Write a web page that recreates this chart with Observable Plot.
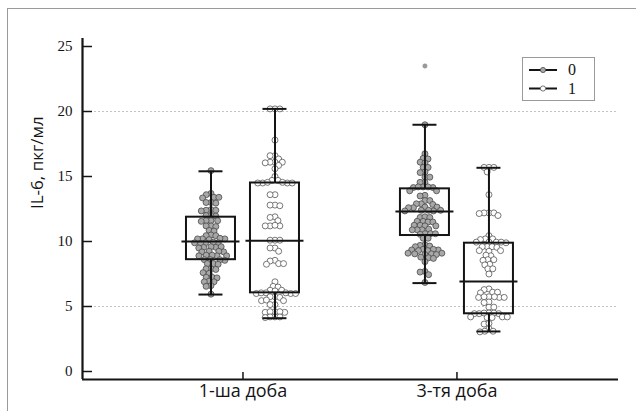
<!DOCTYPE html>
<html><head><meta charset="utf-8">
<script src="https://cdn.jsdelivr.net/npm/d3@7"></script>
<script src="https://cdn.jsdelivr.net/npm/@observablehq/plot@0.6"></script>
<style>
html,body{margin:0;padding:0;background:#fff;overflow:hidden;}
#wrap{position:relative;width:636px;height:411px;overflow:hidden;}
#frame{position:absolute;left:7px;top:8px;width:700px;height:500px;border-left:1.5px solid #9a9a9a;border-top:1.5px solid #9a9a9a;pointer-events:none;}
#legend{position:absolute;left:522px;top:57px;width:73px;height:44px;border:1px solid #9a9a9a;background:#fff;box-sizing:border-box;}
svg{display:block}
</style></head><body><div id="wrap"><div id="frame"></div><div id="legend"></div></div>
<script>
// ---------- data ----------
const days = ["1-ша доба", "3-тя доба"];
const series = ["0", "1"];
const yTicks = [0, 5, 10, 15, 20, 25];
const gridValues = [5, 20];
const yLabel = "IL-6, пкг/мл";

const day1Series0 = [15.45, 13.7, 13.6, 13.4, 13.4, 13.35, 13.0, 13.0, 12.95,
  12.45, 12.4, 12.4, 12.35, 12.0, 12.0, 11.95, 11.6, 11.6, 11.55, 11.6,
  11.2, 11.2, 11.15, 10.85, 10.8, 10.5, 10.45, 10.45,
  10.2, 10.2, 10.15, 10.2, 10.25, 9.9, 9.9, 9.85, 9.9, 9.95,
  9.55, 9.6, 9.55, 9.5, 9.6, 9.25, 9.2, 9.2, 9.25,
  8.9, 8.95, 8.9, 8.9, 8.95, 8.6, 8.6, 8.55, 8.6, 8.3, 8.25, 8.3,
  7.9, 7.9, 7.85, 7.6, 7.55, 7.25, 7.2, 7.25, 6.9, 6.95, 6.9, 6.6, 6.55, 5.95];
const day1Series1 = [20.2, 20.2, 20.2, 17.8, 16.6, 16.6, 16.35, 16.1, 16.1, 16.05, 16.1,
  15.85, 15.6, 15.0, 14.7, 14.7, 14.5, 14.5, 14.5, 14.55, 14.5, 14.55,
  13.6, 13.6, 12.8, 12.75, 12.8, 11.9, 11.85, 11.6, 11.2, 11.2, 11.25, 11.2,
  10.1, 10.1, 10.1, 9.5, 9.5, 9.25, 8.55, 8.5, 8.3, 8.25, 8.3,
  6.9, 6.55, 6.5, 6.25, 6.2, 6.25, 6.05, 6.0, 6.05, 6.0, 6.05, 6.0,
  5.75, 5.7, 5.75, 5.45, 5.45, 5.5, 5.15, 5.15,
  4.6, 4.55, 4.6, 4.55, 4.6, 4.2, 4.2, 4.15, 4.2];
const day3Series0 = [18.98, 16.75, 16.4, 16.35, 16.1, 16.05, 15.7, 15.7, 15.35, 15.3,
  14.95, 14.95, 14.55, 14.55, 14.2, 14.15, 14.2, 14.15, 14.2, 13.9, 13.9,
  13.55, 13.5, 13.15, 13.15, 12.9, 12.9, 12.85, 12.65, 12.6, 12.65, 12.6,
  12.4, 12.35, 12.4, 12.4, 12.35, 11.85, 11.9, 11.85, 11.55, 11.5, 11.55, 11.5,
  11.25, 11.2, 11.2, 11.25, 10.9, 10.95, 10.9, 10.9, 10.6, 10.55, 10.6, 10.6,
  10.25, 10.25, 9.75, 9.7, 9.65, 9.6, 9.4, 9.35, 9.3, 9.35, 9.3, 9.4,
  9.1, 9.05, 9.0, 9.05, 9.1, 9.0, 8.8, 8.75, 8.7, 8.45, 7.7, 7.65, 7.45, 6.85];
const day3Series1 = [15.7, 15.7, 15.7, 15.35, 13.6, 12.2, 12.2, 12.15, 12.2, 12.0,
  10.45, 10.2, 10.2, 10.15, 9.95, 9.95, 9.9, 9.95, 9.95, 9.6, 9.6, 9.55, 9.6,
  9.3, 9.3, 9.25, 8.9, 8.95, 8.6, 8.55, 8.6, 8.25, 8.2, 7.9, 7.9, 7.5,
  6.35, 6.3, 6.1, 6.05, 6.1, 5.75, 5.7, 5.7, 5.75, 5.7, 5.75, 5.35, 5.3,
  4.95, 4.95, 4.5, 4.45, 4.5, 4.45, 4.5, 4.45, 4.2, 4.15, 4.2, 4.15, 4.2,
  3.65, 3.7, 3.3, 3.1, 3.1, 3.05];

// box summaries (day index, series index)
const boxDay = [0, 0, 1, 1];
const boxSeries = [0, 1, 0, 1];
const whiskerLow = [5.92, 4.1, 6.8, 3.08];
const q1 = [8.6, 6.05, 10.46, 4.44];
const median = [10.0, 10.05, 12.3, 6.92];
const q3 = [11.87, 14.5, 14.05, 9.87];
const whiskerHigh = [15.4, 20.2, 18.98, 15.67];

const outlierDay = [1];
const outlierSeries = [0];
const outlierValue = [23.5];

// ---------- layout & style ----------
const W = 636, H = 411;
const M = {top: 38, right: 18, bottom: 32, left: 82};
const xDomain = [-0.75, 1.755];
const yDomain = [-0.615, 25.615];
const pxX = (W - M.left - M.right) / (xDomain[1] - xDomain[0]);
const pxY = (H - M.top - M.bottom) / (yDomain[1] - yDomain[0]);
const seriesOffsetPx = 32, boxHalfPx = 24.5, medianHalfPx = 29, capHalfPx = 12;
const dotR = 3, dotPad = -1.1;
const seriesFill = ["#a8a8a8", "#ffffff"];
const seriesStroke = ["#4a4a4a", "#555555"];
const ink = "#141414";
const serif = "'Liberation Serif', 'Times New Roman', serif";
const sans = "'Open Sans', 'Noto Sans', sans-serif";

const center = (d, s) => d + (s === 0 ? -1 : 1) * seriesOffsetPx / pxX;

// beeswarm offsets computed in pixel space
function swarm(values) {
  const dd = 2 * dotR + dotPad;
  const placed = [];
  const out = new Array(values.length);
  const order = d3.range(values.length).sort((a, b) => values[b] - values[a]);
  for (const i of order) {
    const y = values[i] * pxY;
    const cands = [0];
    for (const p of placed) {
      const dy = Math.abs(p.y - y);
      if (dy < dd) { const dx = Math.sqrt(dd * dd - dy * dy); cands.push(p.x - dx, p.x + dx); }
    }
    cands.sort((a, b) => Math.abs(a) - Math.abs(b) || a - b);
    for (const c of cands) {
      if (placed.every(p => (p.x - c) ** 2 + (p.y - y) ** 2 >= dd * dd - 1e-6)) {
        out[i] = c; placed.push({x: c, y}); break;
      }
    }
  }
  return out;
}

const groups = [
  {day: 0, s: 0, values: day1Series0},
  {day: 0, s: 1, values: day1Series1},
  {day: 1, s: 0, values: day3Series0},
  {day: 1, s: 1, values: day3Series1}
];
const points = [];
for (const g of groups) {
  const off = swarm(g.values);
  g.values.forEach((v, i) => points.push({x: center(g.day, g.s) + off[i] / pxX, y: v, s: g.s}));
}
const boxes = boxDay.map((d, i) => ({c: center(d, boxSeries[i]), lo: whiskerLow[i], q1: q1[i], med: median[i], q3: q3[i], hi: whiskerHigh[i]}));
const outliers = outlierValue.map((v, i) => ({x: center(outlierDay[i], outlierSeries[i]), y: v, s: outlierSeries[i]}));

const chart = Plot.plot({
  width: W, height: H,
  marginTop: M.top, marginRight: M.right, marginBottom: M.bottom, marginLeft: M.left,
  x: {type: "linear", domain: xDomain, axis: null},
  y: {domain: yDomain, axis: null},
  style: {background: "transparent", overflow: "visible"},
  marks: [
    Plot.ruleY(gridValues, {x1: xDomain[0], x2: xDomain[1], stroke: "#c4c4c4", strokeWidth: 1, strokeDasharray: "2,2"}),
    Plot.dot(points, {x: "x", y: "y", r: dotR, fill: d => seriesFill[d.s], stroke: d => seriesStroke[d.s], strokeWidth: 0.8}),
    Plot.dot(outliers, {x: "x", y: "y", r: 2.2, fill: "#9a9a9a", stroke: "#8a8a8a", strokeWidth: 0.5}),
    Plot.ruleX(boxes, {x: "c", y1: "q3", y2: "hi", stroke: ink, strokeWidth: 2}),
    Plot.ruleX(boxes, {x: "c", y1: "lo", y2: "q1", stroke: ink, strokeWidth: 2}),
    Plot.ruleY(boxes, {y: "hi", x1: d => d.c - capHalfPx / pxX, x2: d => d.c + capHalfPx / pxX, stroke: ink, strokeWidth: 2}),
    Plot.ruleY(boxes, {y: "lo", x1: d => d.c - capHalfPx / pxX, x2: d => d.c + capHalfPx / pxX, stroke: ink, strokeWidth: 2}),
    Plot.rect(boxes, {x1: d => d.c - boxHalfPx / pxX, x2: d => d.c + boxHalfPx / pxX, y1: "q1", y2: "q3", fill: "none", stroke: ink, strokeWidth: 2}),
    Plot.ruleY(boxes, {y: "med", x1: d => d.c - medianHalfPx / pxX, x2: d => d.c + medianHalfPx / pxX, stroke: ink, strokeWidth: 2}),
    // axes
    Plot.ruleY(yTicks, {x1: xDomain[0], x2: xDomain[0] + 10 / pxX, stroke: ink, strokeWidth: 1.5}),
    Plot.ruleX(days.map((d, i) => i), {x: d => d, y1: yDomain[0], y2: yDomain[0] + 7 / pxY, stroke: ink, strokeWidth: 1.5}),
    Plot.ruleX([xDomain[0]], {stroke: ink, strokeWidth: 2.2}),
    Plot.ruleY([yDomain[0]], {stroke: ink, strokeWidth: 2.2}),
    Plot.text(yTicks, {y: d => d, frameAnchor: "left", dx: -10, textAnchor: "end", text: d => String(d), fontFamily: serif, fontSize: 15, fill: ink}),
    Plot.text(days, {x: (d, i) => i, frameAnchor: "bottom", dy: 17, text: d => d, fontFamily: sans, fontSize: 18, fill: ink}),
    Plot.text([yLabel], {frameAnchor: "left", dx: -45, rotate: -90, text: d => d, fontFamily: sans, fontSize: 17, fill: ink})
  ]
});
document.getElementById("wrap").insertBefore(chart, document.getElementById("frame"));
chart.style.position = "absolute"; chart.style.left = "0px"; chart.style.top = "0px";

// legend
const lg = d3.select("#legend").append("svg").attr("width", 71).attr("height", 42);
series.forEach((s, i) => {
  const y = 12 + i * 18.5;
  lg.append("line").attr("x1", 6).attr("x2", 34).attr("y1", y).attr("y2", y).attr("stroke", ink).attr("stroke-width", 2);
  lg.append("circle").attr("cx", 20).attr("cy", y).attr("r", 2.6).attr("fill", seriesFill[i]).attr("stroke", seriesStroke[i]).attr("stroke-width", 0.8);
  lg.append("text").attr("x", 45).attr("y", y + 5).text(s).attr("font-family", serif).attr("font-size", 16).attr("fill", ink);
});
</script></body></html>
